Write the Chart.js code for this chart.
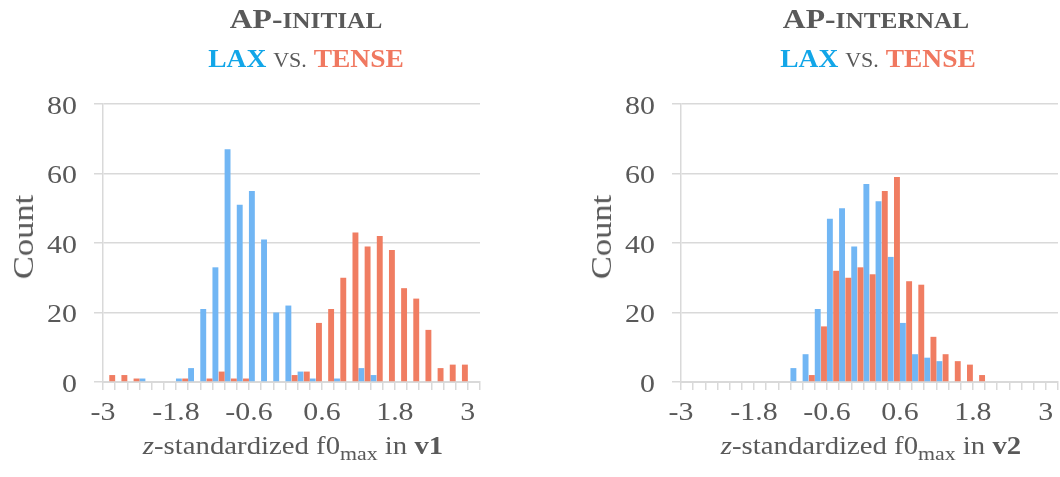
<!DOCTYPE html>
<html>
<head>
<meta charset="utf-8">
<script src="https://cdn.jsdelivr.net/npm/chart.js@4.4.1/dist/chart.umd.min.js"></script>
<style>
html, body { margin: 0; padding: 0; background: #fff; width: 1060px; height: 477px; overflow: hidden; position: relative; }
canvas { position: absolute; top: 0; }
.t { position: absolute; font-family: "Liberation Serif", "Times New Roman", serif; color: #595959; white-space: nowrap; }
.t1 { font-size: 28px; line-height: 28px; font-weight: bold; top: 5px; transform: translateX(-50%) scaleX(1.13); }
.t2 { font-size: 25px; line-height: 25px; top: 46px; transform: translateX(-50%) scaleX(1.1); }
.sc { font-size: 0.8em; }
.lax { color: #12a6e8; font-weight: bold; }
.tense { color: #f07860; font-weight: bold; }
.xt { font-size: 25px; line-height: 25px; top: 433px; transform: translateX(-50%) scaleX(1.15); }
.xt sub { font-size: 19px; vertical-align: -6px; line-height: 0; }
.yt { font-size: 30px; line-height: 30px; top: 237px; transform: translate(-50%, -50%) rotate(-90deg) scaleX(1.15); }
</style>
</head>
<body>
<canvas id="left" width="488" height="477" style="left:0px"></canvas>
<canvas id="right" width="488" height="477" style="left:578px"></canvas>

<div class="t t1" style="left:306px">AP-<span class="sc">INITIAL</span></div>
<div class="t t2" style="left:306px"><span class="lax">LAX</span> <span class="sc">VS.</span> <span class="tense">TENSE</span></div>
<div class="t t1" style="left:876px">AP-<span class="sc">INTERNAL</span></div>
<div class="t t2" style="left:878px"><span class="lax">LAX</span> <span class="sc">VS.</span> <span class="tense">TENSE</span></div>

<div class="t yt" style="left:23px">Count</div>
<div class="t yt" style="left:601px">Count</div>

<div class="t xt" style="left:293px"><i>z</i>-standardized f0<sub>max</sub> in <b>v1</b></div>
<div class="t xt" style="left:871px"><i>z</i>-standardized f0<sub>max</sub> in <b>v2</b></div>

<script>
// bins (z-score), one category per 0.2
const bins = ['-3', '-2.8', '-2.6', '-2.4', '-2.2', '-2', '-1.8', '-1.6', '-1.4', '-1.2', '-1', '-0.8',
              '-0.6', '-0.4', '-0.2', '0', '0.2', '0.4', '0.6', '0.8', '1', '1.2', '1.4', '1.6',
              '1.8', '2', '2.2', '2.4', '2.6', '2.8', '3', '3.2'];
const shownTicks = ['-3', '-1.8', '-0.6', '0.6', '1.8', '3'];

// AP-initial, v1
const initialLax   = [0, 0, 0, 1, 0, 0, 1, 4, 21, 33, 67, 51, 55, 41, 20, 22, 3, 1, 0, 1, 0, 4, 2, 0, 0, 0, 0, 0, 0, 0, 0, 0];
const initialTense = [2, 2, 2, 1, 0, 0, 0, 1, 0, 1, 3, 1, 1, 0, 0, 0, 2, 3, 17, 21, 30, 43, 39, 42, 38, 27, 24, 15, 4, 5, 5, 0];

// AP-internal, v2
const internalLax   = [0, 0, 0, 0, 0, 0, 0, 0, 0, 4, 8, 21, 47, 50, 39, 57, 52, 36, 17, 8, 7, 6, 0, 0, 0, 0, 0, 0, 0, 0, 0, 0];
const internalTense = [0, 0, 0, 0, 0, 0, 0, 0, 0, 0, 0, 2, 16, 32, 30, 33, 31, 55, 59, 29, 28, 13, 8, 6, 5, 2, 0, 0, 0, 0, 0, 0];

const FONT = '"Liberation Serif", "Times New Roman", serif';
const TEXT = '#595959';
const GRID = '#d9d9d9';
const BLUE = 'rgb(113,182,244)';
const RED = 'rgb(240,125,98)';

// the source chart's lettering is a bit wider than Liberation Serif
const wideText = {
    id: 'wideText',
    beforeDraw(chart) {
        const c = chart.ctx;
        if (c._plainFill) return;
        c._plainFill = c.fillText;
        c.fillText = function (t, x, y) {
            this.save();
            this.translate(x, y);
            this.scale(1.15, 1);
            this._plainFill(t, 0, 0);
            this.restore();
        };
    }
};

function histChart(id, lax, tense) {
    const ctx = document.getElementById(id);
    return new Chart(ctx, {
        type: 'bar',
        data: {
            labels: bins,
            datasets: [{
                label: 'TENSE',
                data: tense,
                backgroundColor: RED,
                borderWidth: 0,
                clip: 0
            }, {
                label: 'LAX',
                data: lax,
                backgroundColor: BLUE,
                borderWidth: 0,
                clip: 0
            }]
        },
        options: {
            responsive: false,
            animation: false,
            events: [],
            layout: { padding: { top: 104, right: 0, left: 0, bottom: 0 } },
            datasets: { bar: { categoryPercentage: 0.97, barPercentage: 1 } },
            plugins: {
                legend: { display: false },
                tooltip: { enabled: false }
            },
            scales: {
                x: {
                    offset: false,
                    afterFit: s => { s.height = 95; },
                    grid: { offset: false, drawOnChartArea: false, drawTicks: true, tickLength: 8, color: GRID, lineWidth: 1.5 },
                    border: { display: true, color: GRID, width: 2 },
                    ticks: {
                        autoSkip: false,
                        maxRotation: 0,
                        padding: 8,
                        color: TEXT,
                        font: { family: FONT, size: 26 },
                        callback: (v, i) => shownTicks.includes(bins[i]) ? bins[i] : ''
                    }
                },
                y: {
                    min: 0,
                    max: 80,
                    afterFit: s => { s.width = 103; },
                    grid: { color: GRID, lineWidth: 1.5, drawTicks: true, tickLength: 9 },
                    border: { display: true, color: GRID, width: 1.5 },
                    ticks: { stepSize: 20, padding: 17, labelOffset: 3, color: TEXT, font: { family: FONT, size: 26 } }
                }
            }
        },
        plugins: [wideText]
    });
}

histChart('left', initialLax, initialTense);
histChart('right', internalLax, internalTense);
</script>
</body>
</html>
